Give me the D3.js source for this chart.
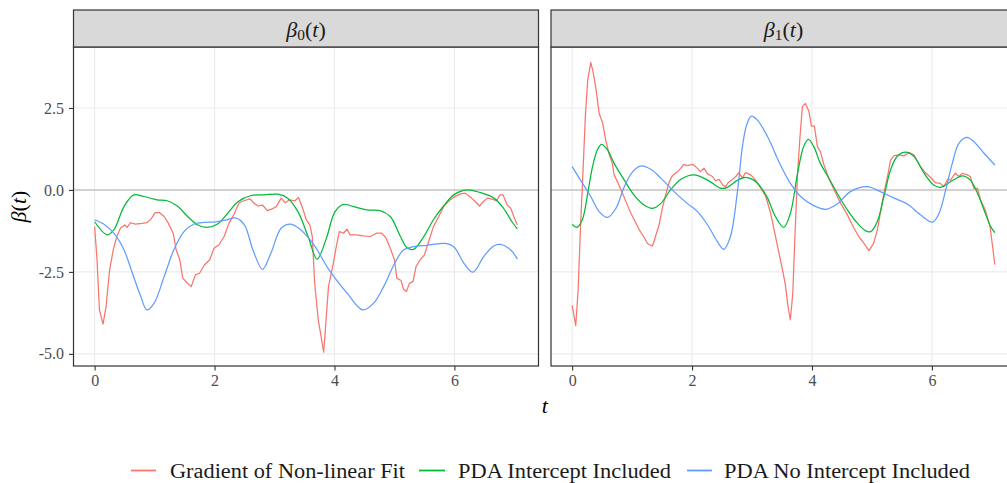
<!DOCTYPE html>
<html>
<head>
<meta charset="utf-8">
<script src="https://cdn.jsdelivr.net/npm/d3@7"></script>
<style>
  html, body { margin: 0; padding: 0; background: #fff; }
</style>
</head>
<body>
<svg id="chart" width="1007" height="483" font-family="Liberation Serif, DejaVu Serif, serif"></svg>
<script>
// ---- data: [t, value] pairs for each coefficient function ----
const seriesNames = ["Gradient of Non-linear Fit", "PDA Intercept Included", "PDA No Intercept Included"];
const seriesColors = ["#F8766D", "#00BA38", "#619CFF"];
const panelKeys = ["beta0", "beta1"];

const beta0Gradient = [
  [0,-1.12],[0.04,-2.13],[0.08,-3.66],[0.14,-4.09],[0.19,-3.56],[0.25,-2.44],[0.31,-1.83],[0.37,-1.42],
  [0.43,-1.17],[0.50,-1.07],[0.54,-1.14],[0.60,-1.0],[0.68,-1.04],[0.79,-1.02],[0.87,-1.0],[0.94,-0.89],
  [1.01,-0.69],[1.08,-0.69],[1.16,-0.81],[1.23,-1.02],[1.31,-1.32],[1.36,-1.83],[1.42,-2.13],[1.47,-2.69],
  [1.54,-2.83],[1.61,-2.95],[1.68,-2.59],[1.75,-2.54],[1.83,-2.29],[1.92,-2.13],[1.99,-1.78],[2.07,-1.68],
  [2.16,-1.42],[2.24,-1.02],[2.32,-0.76],[2.41,-0.39],[2.49,-0.33],[2.59,-0.27],[2.66,-0.41],[2.73,-0.49],
  [2.80,-0.46],[2.88,-0.63],[2.96,-0.58],[3.03,-0.51],[3.11,-0.25],[3.18,-0.39],[3.25,-0.30],[3.34,-0.33],
  [3.40,-0.23],[3.46,-0.51],[3.53,-0.91],[3.59,-1.07],[3.63,-1.42],[3.67,-2.85],[3.73,-3.96],[3.82,-4.95],
  [3.90,-2.95],[3.98,-2.24],[4.03,-1.73],[4.08,-1.27],[4.15,-1.32],[4.21,-1.20],[4.26,-1.37],[4.37,-1.37],
  [4.48,-1.40],[4.60,-1.42],[4.70,-1.32],[4.79,-1.32],[4.86,-1.47],[4.93,-1.78],[5.00,-2.13],[5.04,-2.69],
  [5.11,-2.76],[5.15,-3.03],[5.20,-3.10],[5.25,-2.85],[5.31,-2.79],[5.36,-2.34],[5.43,-2.13],[5.50,-1.98],
  [5.57,-1.58],[5.65,-1.12],[5.74,-0.81],[5.82,-0.51],[5.91,-0.33],[5.99,-0.22],[6.10,-0.12],[6.18,-0.10],
  [6.27,-0.22],[6.35,-0.36],[6.42,-0.49],[6.48,-0.36],[6.55,-0.25],[6.63,-0.28],[6.70,-0.33],[6.76,-0.15],
  [6.81,-0.15],[6.88,-0.46],[6.94,-0.56],[6.99,-0.81],[7.05,-1.07]
];
const beta0Intercept = [
  [0,-0.97],[0.21,-1.37],[0.32,-1.22],[0.49,-0.51],[0.65,-0.15],[0.82,-0.20],[1.04,-0.30],[1.21,-0.33],
  [1.38,-0.49],[1.55,-0.81],[1.72,-1.07],[1.88,-1.14],[2.05,-1.04],[2.22,-0.71],[2.39,-0.36],[2.61,-0.17],
  [2.83,-0.15],[3.06,-0.13],[3.22,-0.25],[3.39,-0.66],[3.56,-1.42],[3.71,-2.11],[3.86,-1.50],[4.01,-0.66],
  [4.15,-0.44],[4.32,-0.51],[4.54,-0.61],[4.76,-0.63],[4.93,-0.81],[5.10,-1.42],[5.21,-1.76],[5.32,-1.81],
  [5.49,-1.42],[5.65,-0.91],[5.82,-0.49],[5.99,-0.15],[6.21,0.0],[6.43,-0.08],[6.66,-0.25],[6.82,-0.56],
  [6.96,-0.97],[7.05,-1.19]
];
const beta0NoIntercept = [
  [0,-0.91],[0.15,-1.04],[0.32,-1.32],[0.49,-1.83],[0.63,-2.54],[0.77,-3.25],[0.87,-3.66],[0.99,-3.46],
  [1.16,-2.64],[1.32,-1.83],[1.49,-1.27],[1.66,-1.04],[1.83,-0.99],[1.99,-0.98],[2.16,-0.93],[2.36,-0.86],
  [2.50,-1.07],[2.64,-1.83],[2.80,-2.42],[2.94,-1.93],[3.11,-1.17],[3.27,-1.04],[3.44,-1.22],[3.66,-1.68],
  [3.91,-2.44],[4.21,-3.15],[4.47,-3.66],[4.65,-3.46],[4.82,-2.95],[4.99,-2.29],[5.15,-1.83],[5.32,-1.73],
  [5.54,-1.69],[5.85,-1.63],[5.99,-1.73],[6.16,-2.24],[6.31,-2.51],[6.49,-2.03],[6.66,-1.70],[6.77,-1.66],
  [6.94,-1.83],[7.05,-2.11]
];

const beta1Gradient = [
  [0,-3.52],[0.06,-4.14],[0.10,-3.05],[0.14,-1.12],[0.18,0.51],[0.22,2.23],[0.26,3.35],[0.31,3.89],
  [0.35,3.60],[0.40,3.05],[0.45,2.34],[0.51,2.03],[0.56,1.52],[0.62,1.07],[0.67,0.81],[0.70,0.46],
  [0.77,0.20],[0.84,-0.10],[0.91,-0.41],[0.98,-0.71],[1.05,-0.96],[1.12,-1.22],[1.19,-1.42],[1.26,-1.64],
  [1.34,-1.71],[1.39,-1.42],[1.45,-1.07],[1.51,-0.51],[1.56,-0.15],[1.62,0.25],[1.67,0.43],[1.76,0.56],
  [1.81,0.66],[1.86,0.78],[1.92,0.74],[2.01,0.78],[2.06,0.71],[2.14,0.56],[2.20,0.66],[2.26,0.49],
  [2.34,0.41],[2.39,0.28],[2.45,0.32],[2.51,0.15],[2.56,0.10],[2.60,0.22],[2.66,0.30],[2.73,0.41],
  [2.78,0.53],[2.84,0.36],[2.89,0.53],[2.98,0.46],[3.06,0.30],[3.14,0.08],[3.23,-0.20],[3.31,-0.71],
  [3.38,-1.32],[3.45,-1.93],[3.52,-2.54],[3.56,-2.94],[3.60,-3.55],[3.64,-3.96],[3.68,-3.15],[3.72,-1.22],
  [3.76,0.51],[3.80,1.62],[3.84,2.54],[3.89,2.64],[3.95,2.39],[3.99,1.95],[4.04,1.95],[4.09,1.32],
  [4.14,1.17],[4.20,0.76],[4.28,0.36],[4.37,0.0],[4.48,-0.41],[4.59,-0.76],[4.70,-1.17],[4.78,-1.42],
  [4.87,-1.64],[4.95,-1.85],[5.03,-1.62],[5.09,-1.22],[5.14,-0.71],[5.20,-0.10],[5.26,0.41],[5.31,0.91],
  [5.37,1.05],[5.45,1.07],[5.53,1.04],[5.62,1.14],[5.70,1.07],[5.76,0.86],[5.81,0.71],[5.89,0.53],
  [5.98,0.38],[6.06,0.22],[6.14,0.20],[6.20,0.10],[6.26,0.32],[6.31,0.30],[6.39,0.51],[6.45,0.41],
  [6.51,0.51],[6.59,0.46],[6.64,0.41],[6.70,0.05],[6.76,0.05],[6.81,-0.30],[6.89,-0.61],[6.97,-1.12],
  [7.05,-2.28]
];
const beta1Intercept = [
  [0,-1.05],[0.08,-1.14],[0.17,-0.91],[0.26,-0.10],[0.34,0.71],[0.42,1.22],[0.49,1.39],[0.59,1.22],
  [0.70,0.81],[0.87,0.30],[1.03,-0.15],[1.20,-0.46],[1.34,-0.56],[1.48,-0.41],[1.64,0.0],[1.81,0.32],
  [2.03,0.46],[2.26,0.30],[2.48,0.05],[2.59,0.08],[2.76,0.30],[2.89,0.38],[3.03,0.30],[3.16,0.05],
  [3.26,-0.25],[3.39,-0.81],[3.53,-1.14],[3.64,-0.71],[3.76,0.51],[3.86,1.32],[3.94,1.54],[4.03,1.32],
  [4.14,0.81],[4.26,0.43],[4.42,-0.10],[4.59,-0.61],[4.76,-1.02],[4.89,-1.24],[4.98,-1.27],[5.09,-0.96],
  [5.20,-0.20],[5.31,0.61],[5.42,1.02],[5.56,1.15],[5.70,1.02],[5.87,0.51],[6.03,0.15],[6.14,0.08],
  [6.31,0.25],[6.51,0.43],[6.64,0.30],[6.76,-0.10],[6.87,-0.61],[6.98,-1.12],[7.05,-1.30]
];
const beta1NoIntercept = [
  [0,0.71],[0.14,0.30],[0.31,-0.20],[0.45,-0.66],[0.59,-0.84],[0.73,-0.56],[0.87,0.10],[1.01,0.56],
  [1.14,0.73],[1.31,0.63],[1.48,0.36],[1.70,-0.05],[1.92,-0.41],[2.09,-0.66],[2.26,-1.07],[2.42,-1.57],
  [2.53,-1.81],[2.64,-1.42],[2.76,0.0],[2.84,1.32],[2.91,1.98],[2.99,2.25],[3.09,2.13],[3.26,1.62],
  [3.48,0.74],[3.64,0.20],[3.81,-0.20],[4.03,-0.48],[4.23,-0.59],[4.42,-0.43],[4.64,-0.05],[4.92,0.10],
  [5.14,-0.05],[5.37,-0.25],[5.59,-0.43],[5.81,-0.76],[6.01,-0.98],[6.12,-0.71],[6.23,0.0],[6.34,0.81],
  [6.45,1.42],[6.58,1.60],[6.70,1.47],[6.87,1.12],[7.05,0.76]
];

const panelData = {
  beta0: [beta0Gradient, beta0Intercept, beta0NoIntercept],
  beta1: [beta1Gradient, beta1Intercept, beta1NoIntercept]
};

const xTicks = [0, 2, 4, 6];
const yTicks = [-5, -2.5, 0, 2.5];
const yTickLabels = ["-5.0", "-2.5", "0.0", "2.5"];

// ---- layout ----
const svg = d3.select("#chart");
const panelTop = 47, panelBottom = 366, stripTop = 10;
const panelWidth = 465, panelGap = 12.5, panelLeft0 = 73.5;
const panelLefts = [panelLeft0, panelLeft0 + panelWidth + panelGap];

const tExtent = [0, 7.05];
const tPad = (tExtent[1] - tExtent[0]) * 0.05;
const yDomain = [-5.37, 4.36];

const y = d3.scaleLinear().domain(yDomain).range([panelBottom, panelTop]);
const gridCol = "#EBEBEB", borderCol = "#333333";
const serif = "Liberation Serif, DejaVu Serif, serif";

// math-style label: β, optional subscript, (t)
function mathLabel(sel, sub) {
  sel.append("tspan").attr("font-style", "italic").text("β");
  if (sub !== null) {
    sel.append("tspan").attr("font-size", "0.7em").attr("dy", "0.25em").text(sub);
    sel.append("tspan").attr("dy", "-0.175em").text("(");
  } else {
    sel.append("tspan").text("(");
  }
  sel.append("tspan").attr("font-style", "italic").text("t");
  sel.append("tspan").text(")");
}

panelKeys.forEach((key, i) => {
  const left = panelLefts[i];
  const x = d3.scaleLinear()
    .domain([tExtent[0] - tPad, tExtent[1] + tPad])
    .range([left, left + panelWidth]);

  const g = svg.append("g");

  g.append("rect").attr("x", left).attr("y", panelTop)
    .attr("width", panelWidth).attr("height", panelBottom - panelTop).attr("fill", "#fff");

  // grid
  g.selectAll(".gx").data(xTicks).join("line")
    .attr("x1", d => x(d)).attr("x2", d => x(d))
    .attr("y1", panelTop).attr("y2", panelBottom)
    .attr("stroke", gridCol).attr("stroke-width", 1.1);
  g.selectAll(".gy").data(yTicks).join("line")
    .attr("x1", left).attr("x2", left + panelWidth)
    .attr("y1", d => y(d)).attr("y2", d => y(d))
    .attr("stroke", gridCol).attr("stroke-width", 1.1);

  // reference line at zero
  g.append("line").attr("x1", left).attr("x2", left + panelWidth)
    .attr("y1", y(0)).attr("y2", y(0))
    .attr("stroke", "#B0B0B0").attr("stroke-width", 1.1);

  // series
  const clipId = "clip-" + key;
  svg.append("clipPath").attr("id", clipId).append("rect")
    .attr("x", left).attr("y", panelTop).attr("width", panelWidth).attr("height", panelBottom - panelTop);
  const lines = g.append("g").attr("clip-path", `url(#${clipId})`);
  panelData[key].forEach((pts, s) => {
    const gen = d3.line()
      .x(d => x(d[0])).y(d => y(d[1]))
      .curve(s === 0 ? d3.curveLinear : d3.curveCatmullRom.alpha(0.5));
    lines.append("path").datum(pts)
      .attr("d", gen)
      .attr("fill", "none")
      .attr("stroke", seriesColors[s])
      .attr("stroke-width", 1.25)
      .attr("stroke-linejoin", "round");
  });

  // panel border
  g.append("rect").attr("x", left).attr("y", panelTop)
    .attr("width", panelWidth).attr("height", panelBottom - panelTop)
    .attr("fill", "none").attr("stroke", borderCol).attr("stroke-width", 1.2);

  // strip
  g.append("rect").attr("x", left).attr("y", stripTop)
    .attr("width", panelWidth).attr("height", panelTop - stripTop)
    .attr("fill", "#D9D9D9").attr("stroke", borderCol).attr("stroke-width", 1.2);
  const st = g.append("text")
    .attr("x", left + panelWidth / 2).attr("y", 36.5)
    .attr("text-anchor", "middle").attr("font-size", 22).attr("fill", "#1A1A1A")
    .attr("font-family", serif);
  mathLabel(st, String(i));

  // x axis
  const xa = g.append("g").attr("transform", `translate(0,${panelBottom})`)
    .call(d3.axisBottom(x).tickValues(xTicks).tickSize(4.5).tickPadding(4).tickFormat(d3.format("d")));
  xa.attr("font-family", serif);
  xa.select(".domain").remove();
  xa.selectAll(".tick line").attr("stroke", borderCol).attr("stroke-width", 1.1);
  xa.selectAll(".tick text").attr("fill", "#4D4D4D").attr("font-size", 16);

  // y axis on the first panel only
  if (i === 0) {
    const ya = g.append("g").attr("transform", `translate(${left},0)`)
      .call(d3.axisLeft(y).tickValues(yTicks).tickSize(4.5).tickPadding(5)
        .tickFormat((d, k) => yTickLabels[k]));
    ya.attr("font-family", serif);
    ya.select(".domain").remove();
    ya.selectAll(".tick line").attr("stroke", borderCol).attr("stroke-width", 1.1);
    ya.selectAll(".tick text").attr("fill", "#4D4D4D").attr("font-size", 16);
  }
});

// axis titles
svg.append("text")
  .attr("x", (panelLefts[0] + panelLefts[1] + panelWidth) / 2).attr("y", 413)
  .attr("text-anchor", "middle").attr("font-size", 22).attr("font-style", "italic")
  .attr("font-family", serif)
  .text("t");

const yt = svg.append("text")
  .attr("transform", `translate(26,${(panelTop + panelBottom) / 2}) rotate(-90)`)
  .attr("text-anchor", "middle").attr("font-size", 22).attr("font-family", serif);
mathLabel(yt, null);

// legend
const legendItems = [
  { key: [131, 156], text: 170, width: 235 },
  { key: [419, 445], text: 458, width: 213 },
  { key: [687, 712], text: 724, width: 246 }
];
const legend = svg.append("g").attr("font-family", serif);
legendItems.forEach((it, s) => {
  legend.append("line")
    .attr("x1", it.key[0]).attr("x2", it.key[1])
    .attr("y1", 470.5).attr("y2", 470.5)
    .attr("stroke", seriesColors[s]).attr("stroke-width", 1.8);
  legend.append("text")
    .attr("x", it.text).attr("y", 477.5)
    .attr("font-size", 20.5).attr("fill", "#1A1A1A")
    .attr("textLength", it.width).attr("lengthAdjust", "spacingAndGlyphs")
    .text(seriesNames[s]);
});
</script>
</body>
</html>
